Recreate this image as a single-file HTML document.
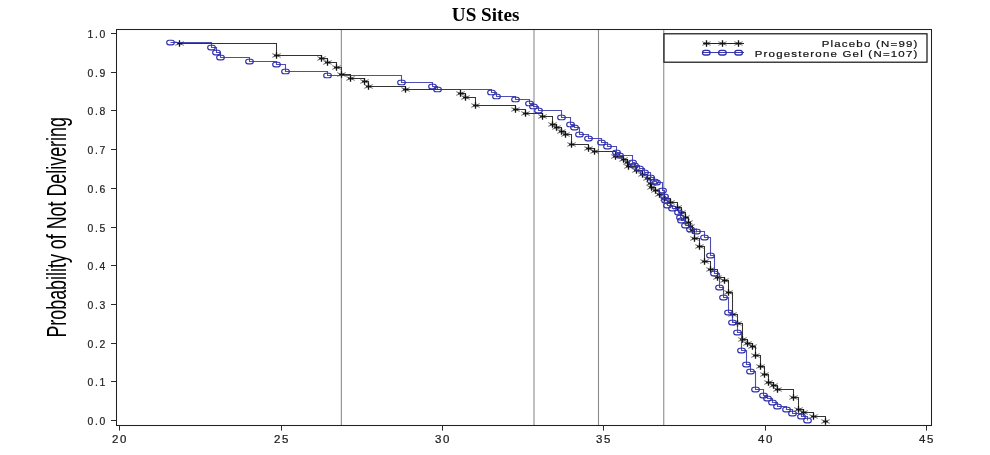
<!DOCTYPE html>
<html><head><meta charset="utf-8"><title>US Sites</title>
<style>html,body{margin:0;padding:0;background:#fff;}svg{display:block;}</style>
</head><body>
<svg width="990" height="455" viewBox="0 0 990 455">
<rect width="990" height="455" fill="#fff"/>
<line x1="341.35" y1="29.5" x2="341.35" y2="425.5" stroke="#8c8c8c" stroke-width="1.1"/>
<line x1="534.00" y1="29.5" x2="534.00" y2="425.5" stroke="#8c8c8c" stroke-width="1.1"/>
<line x1="598.50" y1="29.5" x2="598.50" y2="425.5" stroke="#8c8c8c" stroke-width="1.1"/>
<line x1="663.75" y1="29.5" x2="663.75" y2="425.5" stroke="#8c8c8c" stroke-width="1.1"/>
<path d="M179.5 43.5H276.5V55.5H321.5V58.5H327.5V62.5H336.5V67.5H341.5V74.5H350.5V78.5H364.5V81.5H368.5V86.5H405.5V89.5H460.5V93.5H465.5V97.5H475.5V105.5H515.5V109.5H525.5V113.5H542.5V116.5H552.5V124.5H556.5V127.5H561.5V131.5H565.5V134.5H571.5V144.5H588.5V148.5H594.5V151.5H615.5V156.5H623.5V159.5H627.5V162.5H628.5V166.5H636.5V170.5H642.5V174.5H647.5V178.5H650.5V183.5H651.5V187.5H655.5V190.5H659.5V194.5H664.5V198.5H670.5V202.5H677.5V207.5H681.5V212.5H685.5V217.5H688.5V222.5H690.5V226.5H692.5V230.5H694.5V238.5H699.5V246.5H704.5V261.5H710.5V269.5H717.5V277.5H724.5V280.5H728.5V292.5H732.5V314.5H737.5V323.5H742.5V339.5H747.5V343.5H752.5V346.5H755.5V355.5H760.5V366.5H764.5V374.5H768.5V382.5H773.5V385.5H777.5V389.5H793.5V397.5H798.5V409.5H803.5V412.5H813.5V416.5H825.5V421.5" fill="none" stroke="#333" stroke-width="1.05"/>
<path d="M175.3 41.7L183.7 45.3M175.3 45.3L183.7 41.7M272.3 53.7L280.7 57.3M272.3 57.3L280.7 53.7M317.3 56.7L325.7 60.3M317.3 60.3L325.7 56.7M323.3 60.7L331.7 64.3M323.3 64.3L331.7 60.7M332.3 65.7L340.7 69.3M332.3 69.3L340.7 65.7M337.3 72.7L345.7 76.3M337.3 76.3L345.7 72.7M346.3 76.7L354.7 80.3M346.3 80.3L354.7 76.7M360.3 79.7L368.7 83.3M360.3 83.3L368.7 79.7M364.3 84.7L372.7 88.3M364.3 88.3L372.7 84.7M401.3 87.7L409.7 91.3M401.3 91.3L409.7 87.7M456.3 91.7L464.7 95.3M456.3 95.3L464.7 91.7M461.3 95.7L469.7 99.3M461.3 99.3L469.7 95.7M471.3 103.7L479.7 107.3M471.3 107.3L479.7 103.7M511.3 107.7L519.7 111.3M511.3 111.3L519.7 107.7M521.3 111.7L529.7 115.3M521.3 115.3L529.7 111.7M538.3 114.7L546.7 118.3M538.3 118.3L546.7 114.7M548.3 122.7L556.7 126.3M548.3 126.3L556.7 122.7M552.3 125.7L560.7 129.3M552.3 129.3L560.7 125.7M557.3 129.7L565.7 133.3M557.3 133.3L565.7 129.7M561.3 132.7L569.7 136.3M561.3 136.3L569.7 132.7M567.3 142.7L575.7 146.3M567.3 146.3L575.7 142.7M584.3 146.7L592.7 150.3M584.3 150.3L592.7 146.7M590.3 149.7L598.7 153.3M590.3 153.3L598.7 149.7M611.3 154.7L619.7 158.3M611.3 158.3L619.7 154.7M619.3 157.7L627.7 161.3M619.3 161.3L627.7 157.7M623.3 160.7L631.7 164.3M623.3 164.3L631.7 160.7M624.3 164.7L632.7 168.3M624.3 168.3L632.7 164.7M632.3 168.7L640.7 172.3M632.3 172.3L640.7 168.7M638.3 172.7L646.7 176.3M638.3 176.3L646.7 172.7M643.3 176.7L651.7 180.3M643.3 180.3L651.7 176.7M646.3 181.7L654.7 185.3M646.3 185.3L654.7 181.7M647.3 185.7L655.7 189.3M647.3 189.3L655.7 185.7M651.3 188.7L659.7 192.3M651.3 192.3L659.7 188.7M655.3 192.7L663.7 196.3M655.3 196.3L663.7 192.7M660.3 196.7L668.7 200.3M660.3 200.3L668.7 196.7M666.3 200.7L674.7 204.3M666.3 204.3L674.7 200.7M673.3 205.7L681.7 209.3M673.3 209.3L681.7 205.7M677.3 210.7L685.7 214.3M677.3 214.3L685.7 210.7M681.3 215.7L689.7 219.3M681.3 219.3L689.7 215.7M684.3 220.7L692.7 224.3M684.3 224.3L692.7 220.7M686.3 224.7L694.7 228.3M686.3 228.3L694.7 224.7M688.3 228.7L696.7 232.3M688.3 232.3L696.7 228.7M690.3 236.7L698.7 240.3M690.3 240.3L698.7 236.7M695.3 244.7L703.7 248.3M695.3 248.3L703.7 244.7M700.3 259.7L708.7 263.3M700.3 263.3L708.7 259.7M706.3 267.7L714.7 271.3M706.3 271.3L714.7 267.7M713.3 275.7L721.7 279.3M713.3 279.3L721.7 275.7M720.3 278.7L728.7 282.3M720.3 282.3L728.7 278.7M724.3 290.7L732.7 294.3M724.3 294.3L732.7 290.7M728.3 312.7L736.7 316.3M728.3 316.3L736.7 312.7M733.3 321.7L741.7 325.3M733.3 325.3L741.7 321.7M738.3 337.7L746.7 341.3M738.3 341.3L746.7 337.7M743.3 341.7L751.7 345.3M743.3 345.3L751.7 341.7M748.3 344.7L756.7 348.3M748.3 348.3L756.7 344.7M751.3 353.7L759.7 357.3M751.3 357.3L759.7 353.7M756.3 364.7L764.7 368.3M756.3 368.3L764.7 364.7M760.3 372.7L768.7 376.3M760.3 376.3L768.7 372.7M764.3 380.7L772.7 384.3M764.3 384.3L772.7 380.7M769.3 383.7L777.7 387.3M769.3 387.3L777.7 383.7M773.3 387.7L781.7 391.3M773.3 391.3L781.7 387.7M789.3 395.7L797.7 399.3M789.3 399.3L797.7 395.7M794.3 407.7L802.7 411.3M794.3 411.3L802.7 407.7M799.3 410.7L807.7 414.3M799.3 414.3L807.7 410.7M809.3 414.7L817.7 418.3M809.3 418.3L817.7 414.7M821.3 419.7L829.7 423.3M821.3 423.3L829.7 419.7" fill="none" stroke="#111" stroke-width="0.9" opacity="0.75"/>
<path d="M177.2 43.5h4.6M179.5 40.2v6.6M274.2 55.5h4.6M276.5 52.2v6.6M319.2 58.5h4.6M321.5 55.2v6.6M325.2 62.5h4.6M327.5 59.2v6.6M334.2 67.5h4.6M336.5 64.2v6.6M339.2 74.5h4.6M341.5 71.2v6.6M348.2 78.5h4.6M350.5 75.2v6.6M362.2 81.5h4.6M364.5 78.2v6.6M366.2 86.5h4.6M368.5 83.2v6.6M403.2 89.5h4.6M405.5 86.2v6.6M458.2 93.5h4.6M460.5 90.2v6.6M463.2 97.5h4.6M465.5 94.2v6.6M473.2 105.5h4.6M475.5 102.2v6.6M513.2 109.5h4.6M515.5 106.2v6.6M523.2 113.5h4.6M525.5 110.2v6.6M540.2 116.5h4.6M542.5 113.2v6.6M550.2 124.5h4.6M552.5 121.2v6.6M554.2 127.5h4.6M556.5 124.2v6.6M559.2 131.5h4.6M561.5 128.2v6.6M563.2 134.5h4.6M565.5 131.2v6.6M569.2 144.5h4.6M571.5 141.2v6.6M586.2 148.5h4.6M588.5 145.2v6.6M592.2 151.5h4.6M594.5 148.2v6.6M613.2 156.5h4.6M615.5 153.2v6.6M621.2 159.5h4.6M623.5 156.2v6.6M625.2 162.5h4.6M627.5 159.2v6.6M626.2 166.5h4.6M628.5 163.2v6.6M634.2 170.5h4.6M636.5 167.2v6.6M640.2 174.5h4.6M642.5 171.2v6.6M645.2 178.5h4.6M647.5 175.2v6.6M648.2 183.5h4.6M650.5 180.2v6.6M649.2 187.5h4.6M651.5 184.2v6.6M653.2 190.5h4.6M655.5 187.2v6.6M657.2 194.5h4.6M659.5 191.2v6.6M662.2 198.5h4.6M664.5 195.2v6.6M668.2 202.5h4.6M670.5 199.2v6.6M675.2 207.5h4.6M677.5 204.2v6.6M679.2 212.5h4.6M681.5 209.2v6.6M683.2 217.5h4.6M685.5 214.2v6.6M686.2 222.5h4.6M688.5 219.2v6.6M688.2 226.5h4.6M690.5 223.2v6.6M690.2 230.5h4.6M692.5 227.2v6.6M692.2 238.5h4.6M694.5 235.2v6.6M697.2 246.5h4.6M699.5 243.2v6.6M702.2 261.5h4.6M704.5 258.2v6.6M708.2 269.5h4.6M710.5 266.2v6.6M715.2 277.5h4.6M717.5 274.2v6.6M722.2 280.5h4.6M724.5 277.2v6.6M726.2 292.5h4.6M728.5 289.2v6.6M730.2 314.5h4.6M732.5 311.2v6.6M735.2 323.5h4.6M737.5 320.2v6.6M740.2 339.5h4.6M742.5 336.2v6.6M745.2 343.5h4.6M747.5 340.2v6.6M750.2 346.5h4.6M752.5 343.2v6.6M753.2 355.5h4.6M755.5 352.2v6.6M758.2 366.5h4.6M760.5 363.2v6.6M762.2 374.5h4.6M764.5 371.2v6.6M766.2 382.5h4.6M768.5 379.2v6.6M771.2 385.5h4.6M773.5 382.2v6.6M775.2 389.5h4.6M777.5 386.2v6.6M791.2 397.5h4.6M793.5 394.2v6.6M796.2 409.5h4.6M798.5 406.2v6.6M801.2 412.5h4.6M803.5 409.2v6.6M811.2 416.5h4.6M813.5 413.2v6.6M823.2 421.5h4.6M825.5 418.2v6.6" fill="none" stroke="#111" stroke-width="1.3"/>
<path d="M170.5 42.5H211.5V47.5H216.5V52.5H220.5V57.5H249.5V61.5H276.5V64.5H285.5V71.5H327.5V75.5H401.5V82.5H432.5V86.5H437.5V89.5H491.5V92.5H496.5V96.5H515.5V99.5H529.5V103.5H533.5V106.5H538.5V110.5H561.5V117.5H570.5V124.5H574.5V127.5H579.5V134.5H588.5V138.5H601.5V142.5H607.5V146.5H616.5V152.5H619.5V155.5H632.5V162.5H634.5V165.5H639.5V168.5H644.5V172.5H650.5V177.5H654.5V181.5H656.5V182.5H662.5V190.5H664.5V196.5H665.5V200.5H667.5V205.5H672.5V208.5H678.5V212.5H680.5V217.5H681.5V220.5H685.5V225.5H690.5V229.5H696.5V231.5H704.5V237.5H710.5V255.5H714.5V273.5H719.5V287.5H723.5V297.5H728.5V312.5H732.5V322.5H737.5V332.5H741.5V350.5H746.5V364.5H750.5V371.5H755.5V389.5H763.5V395.5H767.5V398.5H772.5V402.5H777.5V406.5H786.5V409.5H792.5V413.5H801.5V416.5H807.5V420.5" fill="none" stroke="#2e2ea4" stroke-width="1.1" stroke-opacity="0.85"/>
<g fill="none" stroke="#2e2eaa" stroke-width="1.15"><rect x="166.7" y="40.2" width="7.6" height="4.6" rx="2.3" ry="2.3"/><rect x="207.7" y="45.2" width="7.6" height="4.6" rx="2.3" ry="2.3"/><rect x="212.7" y="50.2" width="7.6" height="4.6" rx="2.3" ry="2.3"/><rect x="216.7" y="55.2" width="7.6" height="4.6" rx="2.3" ry="2.3"/><rect x="245.7" y="59.2" width="7.6" height="4.6" rx="2.3" ry="2.3"/><rect x="272.7" y="62.2" width="7.6" height="4.6" rx="2.3" ry="2.3"/><rect x="281.7" y="69.2" width="7.6" height="4.6" rx="2.3" ry="2.3"/><rect x="323.7" y="73.2" width="7.6" height="4.6" rx="2.3" ry="2.3"/><rect x="397.7" y="80.2" width="7.6" height="4.6" rx="2.3" ry="2.3"/><rect x="428.7" y="84.2" width="7.6" height="4.6" rx="2.3" ry="2.3"/><rect x="433.7" y="87.2" width="7.6" height="4.6" rx="2.3" ry="2.3"/><rect x="487.7" y="90.2" width="7.6" height="4.6" rx="2.3" ry="2.3"/><rect x="492.7" y="94.2" width="7.6" height="4.6" rx="2.3" ry="2.3"/><rect x="511.7" y="97.2" width="7.6" height="4.6" rx="2.3" ry="2.3"/><rect x="525.7" y="101.2" width="7.6" height="4.6" rx="2.3" ry="2.3"/><rect x="529.7" y="104.2" width="7.6" height="4.6" rx="2.3" ry="2.3"/><rect x="534.7" y="108.2" width="7.6" height="4.6" rx="2.3" ry="2.3"/><rect x="557.7" y="115.2" width="7.6" height="4.6" rx="2.3" ry="2.3"/><rect x="566.7" y="122.2" width="7.6" height="4.6" rx="2.3" ry="2.3"/><rect x="570.7" y="125.2" width="7.6" height="4.6" rx="2.3" ry="2.3"/><rect x="575.7" y="132.2" width="7.6" height="4.6" rx="2.3" ry="2.3"/><rect x="584.7" y="136.2" width="7.6" height="4.6" rx="2.3" ry="2.3"/><rect x="597.7" y="140.2" width="7.6" height="4.6" rx="2.3" ry="2.3"/><rect x="603.7" y="144.2" width="7.6" height="4.6" rx="2.3" ry="2.3"/><rect x="612.7" y="150.2" width="7.6" height="4.6" rx="2.3" ry="2.3"/><rect x="615.7" y="153.2" width="7.6" height="4.6" rx="2.3" ry="2.3"/><rect x="628.7" y="160.2" width="7.6" height="4.6" rx="2.3" ry="2.3"/><rect x="630.7" y="163.2" width="7.6" height="4.6" rx="2.3" ry="2.3"/><rect x="635.7" y="166.2" width="7.6" height="4.6" rx="2.3" ry="2.3"/><rect x="640.7" y="170.2" width="7.6" height="4.6" rx="2.3" ry="2.3"/><rect x="646.7" y="175.2" width="7.6" height="4.6" rx="2.3" ry="2.3"/><rect x="650.7" y="179.2" width="7.6" height="4.6" rx="2.3" ry="2.3"/><rect x="652.7" y="180.2" width="7.6" height="4.6" rx="2.3" ry="2.3"/><rect x="658.7" y="188.2" width="7.6" height="4.6" rx="2.3" ry="2.3"/><rect x="660.7" y="194.2" width="7.6" height="4.6" rx="2.3" ry="2.3"/><rect x="661.7" y="198.2" width="7.6" height="4.6" rx="2.3" ry="2.3"/><rect x="663.7" y="203.2" width="7.6" height="4.6" rx="2.3" ry="2.3"/><rect x="668.7" y="206.2" width="7.6" height="4.6" rx="2.3" ry="2.3"/><rect x="674.7" y="210.2" width="7.6" height="4.6" rx="2.3" ry="2.3"/><rect x="676.7" y="215.2" width="7.6" height="4.6" rx="2.3" ry="2.3"/><rect x="677.7" y="218.2" width="7.6" height="4.6" rx="2.3" ry="2.3"/><rect x="681.7" y="223.2" width="7.6" height="4.6" rx="2.3" ry="2.3"/><rect x="686.7" y="227.2" width="7.6" height="4.6" rx="2.3" ry="2.3"/><rect x="692.7" y="229.2" width="7.6" height="4.6" rx="2.3" ry="2.3"/><rect x="700.7" y="235.2" width="7.6" height="4.6" rx="2.3" ry="2.3"/><rect x="706.7" y="253.2" width="7.6" height="4.6" rx="2.3" ry="2.3"/><rect x="710.7" y="271.2" width="7.6" height="4.6" rx="2.3" ry="2.3"/><rect x="715.7" y="285.2" width="7.6" height="4.6" rx="2.3" ry="2.3"/><rect x="719.7" y="295.2" width="7.6" height="4.6" rx="2.3" ry="2.3"/><rect x="724.7" y="310.2" width="7.6" height="4.6" rx="2.3" ry="2.3"/><rect x="728.7" y="320.2" width="7.6" height="4.6" rx="2.3" ry="2.3"/><rect x="733.7" y="330.2" width="7.6" height="4.6" rx="2.3" ry="2.3"/><rect x="737.7" y="348.2" width="7.6" height="4.6" rx="2.3" ry="2.3"/><rect x="742.7" y="362.2" width="7.6" height="4.6" rx="2.3" ry="2.3"/><rect x="746.7" y="369.2" width="7.6" height="4.6" rx="2.3" ry="2.3"/><rect x="751.7" y="387.2" width="7.6" height="4.6" rx="2.3" ry="2.3"/><rect x="759.7" y="393.2" width="7.6" height="4.6" rx="2.3" ry="2.3"/><rect x="763.7" y="396.2" width="7.6" height="4.6" rx="2.3" ry="2.3"/><rect x="768.7" y="400.2" width="7.6" height="4.6" rx="2.3" ry="2.3"/><rect x="773.7" y="404.2" width="7.6" height="4.6" rx="2.3" ry="2.3"/><rect x="782.7" y="407.2" width="7.6" height="4.6" rx="2.3" ry="2.3"/><rect x="788.7" y="411.2" width="7.6" height="4.6" rx="2.3" ry="2.3"/><rect x="797.7" y="414.2" width="7.6" height="4.6" rx="2.3" ry="2.3"/><rect x="803.7" y="418.2" width="7.6" height="4.6" rx="2.3" ry="2.3"/></g>
<rect x="664.0" y="33.8" width="263" height="28.4" fill="#fff" stroke="#111" stroke-width="1.2"/>
<path d="M703 43.5H744" stroke="#222" stroke-width="1"/>
<path d="M702.3 41.7L710.7 45.3M702.3 45.3L710.7 41.7M718.3 41.7L726.7 45.3M718.3 45.3L726.7 41.7M734.3 41.7L742.7 45.3M734.3 45.3L742.7 41.7" fill="none" stroke="#111" stroke-width="0.8" opacity="0.75"/>
<path d="M704.2 43.5h4.6M706.5 40.2v6.6M720.2 43.5h4.6M722.5 40.2v6.6M736.2 43.5h4.6M738.5 40.2v6.6" fill="none" stroke="#111" stroke-width="1.3"/>
<path d="M703 52.5H744" stroke="#3a3ab0" stroke-width="1"/>
<g fill="none" stroke="#2e2eaa" stroke-width="1.3"><rect x="702.5" y="50.4" width="7.6" height="4.6" rx="2.3" ry="2.3"/><rect x="718.6" y="50.4" width="7.6" height="4.6" rx="2.3" ry="2.3"/><rect x="734.8" y="50.4" width="7.6" height="4.6" rx="2.3" ry="2.3"/></g>
<text transform="translate(918.6 47.0) scale(1.22 1)" text-anchor="end" letter-spacing="1" font-family="Liberation Sans, Arial, sans-serif" font-size="9.4" fill="#111" stroke="#111" stroke-width="0.2">Placebo (N=99)</text>
<text transform="translate(918.6 56.7) scale(1.22 1)" text-anchor="end" letter-spacing="1" font-family="Liberation Sans, Arial, sans-serif" font-size="9.4" fill="#111" stroke="#111" stroke-width="0.2">Progesterone Gel (N=107)</text>
<rect x="116.5" y="29.5" width="815.0" height="396.0" fill="none" stroke="#222" stroke-width="1.05"/>
<line x1="111" y1="420.5" x2="116.5" y2="420.5" stroke="#2a2a2a" stroke-width="1.05"/>
<text x="105.4" y="424.7" text-anchor="end" textLength="17.8" lengthAdjust="spacing" font-family="Liberation Sans, Arial, sans-serif" font-size="10.4" fill="#222" stroke="#222" stroke-width="0.2">0.0</text>
<line x1="111" y1="381.5" x2="116.5" y2="381.5" stroke="#2a2a2a" stroke-width="1.05"/>
<text x="105.4" y="385.7" text-anchor="end" textLength="17.8" lengthAdjust="spacing" font-family="Liberation Sans, Arial, sans-serif" font-size="10.4" fill="#222" stroke="#222" stroke-width="0.2">0.1</text>
<line x1="111" y1="343.5" x2="116.5" y2="343.5" stroke="#2a2a2a" stroke-width="1.05"/>
<text x="105.4" y="347.7" text-anchor="end" textLength="17.8" lengthAdjust="spacing" font-family="Liberation Sans, Arial, sans-serif" font-size="10.4" fill="#222" stroke="#222" stroke-width="0.2">0.2</text>
<line x1="111" y1="304.5" x2="116.5" y2="304.5" stroke="#2a2a2a" stroke-width="1.05"/>
<text x="105.4" y="308.7" text-anchor="end" textLength="17.8" lengthAdjust="spacing" font-family="Liberation Sans, Arial, sans-serif" font-size="10.4" fill="#222" stroke="#222" stroke-width="0.2">0.3</text>
<line x1="111" y1="265.5" x2="116.5" y2="265.5" stroke="#2a2a2a" stroke-width="1.05"/>
<text x="105.4" y="269.7" text-anchor="end" textLength="17.8" lengthAdjust="spacing" font-family="Liberation Sans, Arial, sans-serif" font-size="10.4" fill="#222" stroke="#222" stroke-width="0.2">0.4</text>
<line x1="111" y1="227.5" x2="116.5" y2="227.5" stroke="#2a2a2a" stroke-width="1.05"/>
<text x="105.4" y="231.7" text-anchor="end" textLength="17.8" lengthAdjust="spacing" font-family="Liberation Sans, Arial, sans-serif" font-size="10.4" fill="#222" stroke="#222" stroke-width="0.2">0.5</text>
<line x1="111" y1="188.5" x2="116.5" y2="188.5" stroke="#2a2a2a" stroke-width="1.05"/>
<text x="105.4" y="192.7" text-anchor="end" textLength="17.8" lengthAdjust="spacing" font-family="Liberation Sans, Arial, sans-serif" font-size="10.4" fill="#222" stroke="#222" stroke-width="0.2">0.6</text>
<line x1="111" y1="149.5" x2="116.5" y2="149.5" stroke="#2a2a2a" stroke-width="1.05"/>
<text x="105.4" y="153.7" text-anchor="end" textLength="17.8" lengthAdjust="spacing" font-family="Liberation Sans, Arial, sans-serif" font-size="10.4" fill="#222" stroke="#222" stroke-width="0.2">0.7</text>
<line x1="111" y1="110.5" x2="116.5" y2="110.5" stroke="#2a2a2a" stroke-width="1.05"/>
<text x="105.4" y="114.7" text-anchor="end" textLength="17.8" lengthAdjust="spacing" font-family="Liberation Sans, Arial, sans-serif" font-size="10.4" fill="#222" stroke="#222" stroke-width="0.2">0.8</text>
<line x1="111" y1="72.5" x2="116.5" y2="72.5" stroke="#2a2a2a" stroke-width="1.05"/>
<text x="105.4" y="76.7" text-anchor="end" textLength="17.8" lengthAdjust="spacing" font-family="Liberation Sans, Arial, sans-serif" font-size="10.4" fill="#222" stroke="#222" stroke-width="0.2">0.9</text>
<line x1="111" y1="33.5" x2="116.5" y2="33.5" stroke="#2a2a2a" stroke-width="1.05"/>
<text x="105.4" y="37.7" text-anchor="end" textLength="17.8" lengthAdjust="spacing" font-family="Liberation Sans, Arial, sans-serif" font-size="10.4" fill="#222" stroke="#222" stroke-width="0.2">1.0</text>
<line x1="119.5" y1="425.5" x2="119.5" y2="430.6" stroke="#2a2a2a" stroke-width="1.05"/>
<text transform="translate(119.90 443.0) scale(1.15 1)" text-anchor="middle" letter-spacing="1.4" font-family="Liberation Sans, Arial, sans-serif" font-size="10" fill="#222" stroke="#222" stroke-width="0.22">20</text>
<line x1="281.5" y1="425.5" x2="281.5" y2="430.6" stroke="#2a2a2a" stroke-width="1.05"/>
<text transform="translate(281.90 443.0) scale(1.15 1)" text-anchor="middle" letter-spacing="1.4" font-family="Liberation Sans, Arial, sans-serif" font-size="10" fill="#222" stroke="#222" stroke-width="0.22">25</text>
<line x1="442.5" y1="425.5" x2="442.5" y2="430.6" stroke="#2a2a2a" stroke-width="1.05"/>
<text transform="translate(442.90 443.0) scale(1.15 1)" text-anchor="middle" letter-spacing="1.4" font-family="Liberation Sans, Arial, sans-serif" font-size="10" fill="#222" stroke="#222" stroke-width="0.22">30</text>
<line x1="603.5" y1="425.5" x2="603.5" y2="430.6" stroke="#2a2a2a" stroke-width="1.05"/>
<text transform="translate(603.90 443.0) scale(1.15 1)" text-anchor="middle" letter-spacing="1.4" font-family="Liberation Sans, Arial, sans-serif" font-size="10" fill="#222" stroke="#222" stroke-width="0.22">35</text>
<line x1="765.5" y1="425.5" x2="765.5" y2="430.6" stroke="#2a2a2a" stroke-width="1.05"/>
<text transform="translate(765.90 443.0) scale(1.15 1)" text-anchor="middle" letter-spacing="1.4" font-family="Liberation Sans, Arial, sans-serif" font-size="10" fill="#222" stroke="#222" stroke-width="0.22">40</text>
<line x1="926.5" y1="425.5" x2="926.5" y2="430.6" stroke="#2a2a2a" stroke-width="1.05"/>
<text transform="translate(926.90 443.0) scale(1.15 1)" text-anchor="middle" letter-spacing="1.4" font-family="Liberation Sans, Arial, sans-serif" font-size="10" fill="#222" stroke="#222" stroke-width="0.22">45</text>
<text x="485.6" y="21" text-anchor="middle" font-family="Liberation Serif, Times New Roman, serif" font-weight="bold" font-size="18" textLength="67.6" lengthAdjust="spacingAndGlyphs" fill="#000">US Sites</text>
<text transform="translate(65.6 337.6) rotate(-90)" x="0" y="0" textLength="220.5" lengthAdjust="spacingAndGlyphs" font-family="Liberation Sans, Arial, sans-serif" font-size="26.8" fill="#000">Probability of Not Delivering</text>
</svg>
</body></html>
